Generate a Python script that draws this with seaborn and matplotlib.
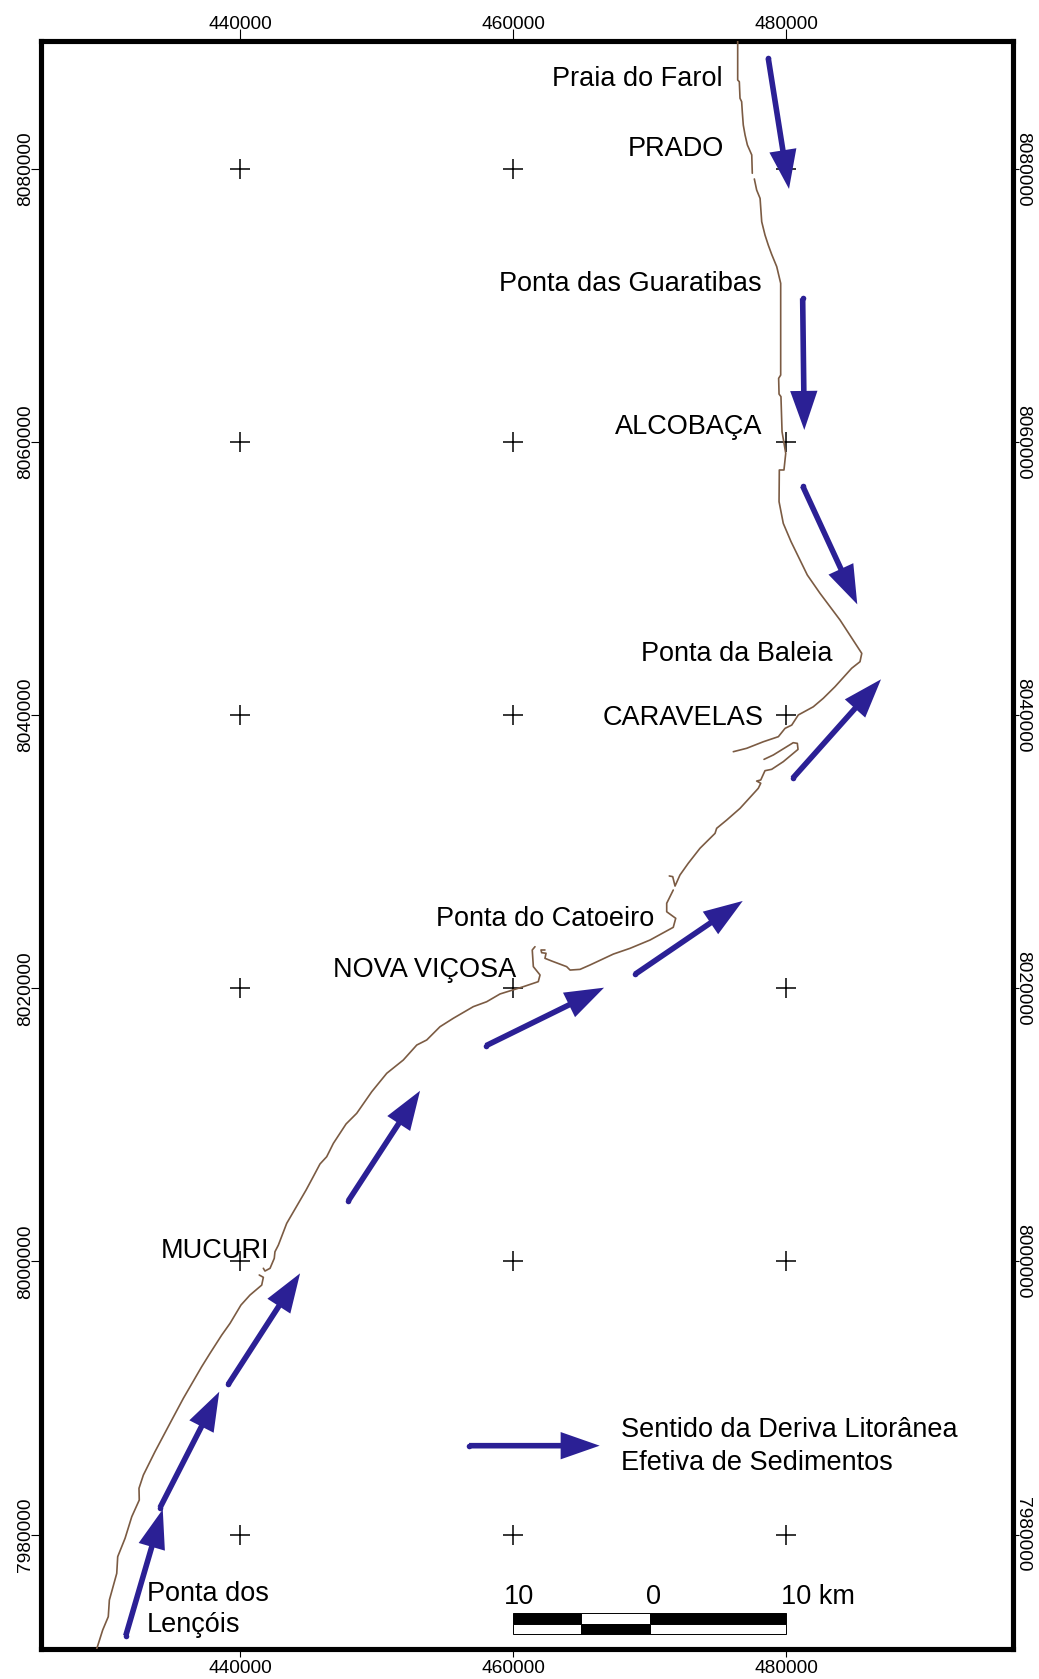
import numpy as np
import matplotlib
matplotlib.use("Agg")
import matplotlib.pyplot as plt
import seaborn as sns

# --------------------------------------------------
# Data (UTM metres)
# --------------------------------------------------
x_ticks = [440000, 460000, 480000]
y_ticks = [7980000, 8000000, 8020000, 8040000, 8060000, 8080000]

# coastline pieces, north to south
coast_a_x = [476460, 476460, 476580, 476630, 476750, 476800, 476870, 477000, 477170, 477490, 477530]
coast_a_y = [8089370, 8086520, 8086390, 8085180, 8084930, 8084150, 8083220, 8082490, 8081760, 8081030, 8079690]

coast_b_x = [477680, 477850, 478100, 478220, 478460, 478700, 478950, 479320, 479610, 479610, 479460,
             479490, 479630, 479710, 479980, 479850, 479510, 479490, 479800, 480370, 481560, 482490,
             483960, 485550, 485420, 484810, 483590, 482730, 482000, 480900, 480420, 479930, 479440,
             478340, 477120, 476140]
coast_b_y = [8079270, 8078460, 8077850, 8076140, 8075170, 8074430, 8073750, 8072850, 8071630, 8064910, 8064670,
             8063520, 8063330, 8060760, 8059180, 8057960, 8057960, 8055640, 8054050, 8052710, 8050270, 8048930,
             8046970, 8044530, 8043920, 8043440, 8042090, 8041240, 8040620, 8040020, 8039280, 8039040, 8038430,
             8038060, 8037580, 8037330]

coast_c_x = [478390, 479070, 480530, 480830, 480880, 479800, 478950, 478460, 478150, 477850, 478150,
             477970, 476630, 475660, 474920, 474800, 473700, 472840, 472230, 471870, 471700, 471450]
coast_c_y = [8036770, 8037090, 8037990, 8037940, 8037500, 8036600, 8036040, 8035940, 8035260, 8035180, 8035020,
             8034650, 8033180, 8032330, 8031720, 8031350, 8030260, 8029160, 8028300, 8027490, 8028180, 8028230]

coast_d_x = [471740, 471260, 471260, 471920, 471740, 470040, 468570, 467350, 465640, 464910, 464180,
             463930, 462840, 462340, 462420, 462100, 462050, 462340]
coast_d_y = [8027200, 8026230, 8025610, 8025130, 8024470, 8023540, 8022930, 8022510, 8021710, 8021390, 8021340,
             8021590, 8022000, 8022200, 8022570, 8022610, 8022810, 8022810]

coast_e_x = [461610, 461410, 461490, 461980, 461850, 460750, 459050, 458070, 457090, 455630, 454650,
             453680, 452950, 451960, 450750, 449650, 448550, 447770, 446840, 446350, 445860, 445350,
             444840, 443420, 442810, 442560, 442510, 442200, 441830, 441710]
coast_e_y = [8023050, 8022810, 8021590, 8020980, 8020490, 8020120, 8019590, 8019020, 8018660, 8017810, 8017190,
             8016220, 8015850, 8014750, 8013780, 8012430, 8010850, 8010070, 8008650, 8007670, 8007140, 8006180,
             8005230, 8002790, 8001200, 8000710, 8000230, 7999500, 7999300, 7999500]

coast_f_x = [441410, 441710, 441590, 440730, 440070, 439270, 438660, 437800, 437190, 435850, 435000,
             433770, 432920, 432600, 432620, 432070, 431580, 431040, 430970, 430430, 430350, 429940, 429500]
coast_f_y = [7999010, 7998840, 7998270, 7997540, 7996810, 7995470, 7994610, 7993270, 7992290, 7989980, 7988390,
             7986070, 7984360, 7983390, 7982530, 7981310, 7979730, 7978380, 7977160, 7975210, 7973990, 7973010, 7971620]

coast_segments = [(coast_a_x, coast_a_y), (coast_b_x, coast_b_y), (coast_c_x, coast_c_y),
                  (coast_d_x, coast_d_y), (coast_e_x, coast_e_y), (coast_f_x, coast_f_y)]

# drift arrows, the last one is the key
arrow_tail_x = [478700, 481220, 481220, 480490, 468940, 458020, 447930, 439140, 434140, 431630, 456780]
arrow_tail_y = [8088110, 8070530, 8056790, 8035380, 8021030, 8015800, 8004430, 7991000, 7981970, 7972590, 7986510]
arrow_tip_x = [480220, 481340, 485220, 486960, 476830, 466670, 453190, 444400, 438480, 434340, 466350]
arrow_tip_y = [8078540, 8060890, 8048120, 8042630, 8026400, 8020050, 8012500, 7999130, 7990460, 7981850, 7986510]

# place names (left end of the baseline)
place_names = ["Praia do Farol", "PRADO", "Ponta das Guaratibas", "ALCOBAÇA", "Ponta da Baleia",
               "CARAVELAS", "Ponta do Catoeiro", "NOVA VIÇOSA", "MUCURI", "Ponta dos", "Lençóis",
               "Sentido da Deriva Litorânea", "Efetiva de Sedimentos"]
place_x = [462860, 468400, 458970, 467470, 469380, 466590, 454360, 446810, 434210, 433190, 433190, 467910, 467910]
place_y = [8086100, 8080970, 8071090, 8060590, 8043990, 8039280, 8024590, 8020850, 8000230, 7975170, 7972890,
           7987140, 7984730]

# scale bar
scale_edges = [460000, 465000, 470000, 480000]
scale_labels = ["10", "0", "10 km"]

# --------------------------------------------------
# Figure
# --------------------------------------------------
sns.set_theme(style="white")
plt.rcParams["font.family"] = ["Liberation Sans", "DejaVu Sans"]
plt.rcParams["text.color"] = "black"

W, H = 1039, 1679
fig = plt.figure(figsize=(W / 100, H / 100), dpi=100)
ax = fig.add_axes([41 / W, (H - 1649) / H, (1012.6 - 41) / W, (1649 - 41) / H])

ax.set_xlim(425421, 496600)
ax.set_ylim(7971622, 8089374)

# grid crosses
grid_x, grid_y = np.meshgrid(x_ticks, y_ticks)
sns.scatterplot(x=grid_x.ravel(), y=grid_y.ravel(), marker="+", color="black", s=225,
                linewidth=1.1, legend=False, ax=ax, zorder=2)

# coastline
for seg_x, seg_y in coast_segments:
    sns.lineplot(x=seg_x, y=seg_y, sort=False, estimator=None, color="#7b5b43",
                 linewidth=1.2, legend=False, ax=ax, zorder=3)

# arrows
arrow_color = "#2b2095"
for x0, y0, x1, y1 in zip(arrow_tail_x, arrow_tail_y, arrow_tip_x, arrow_tip_y):
    ax.arrow(x0, y0, x1 - x0, y1 - y0, width=410, head_width=2000, head_length=2860,
             length_includes_head=True, color=arrow_color, linewidth=0, zorder=4)
sns.scatterplot(x=arrow_tail_x, y=arrow_tail_y, color=arrow_color, s=16, linewidth=0,
                legend=False, ax=ax, zorder=4)

# labels
for name, x, y in zip(place_names, place_x, place_y):
    ax.text(x, y, name, fontsize=19.5, color="black", ha="left", va="baseline", zorder=5)

# scale bar: two rows with opposite colours
bar_left = scale_edges[:-1]
bar_width = np.diff(scale_edges)
ax.bar(bar_left, 780, width=bar_width, bottom=7973480, align="edge",
       color=["black", "white", "black"], edgecolor="black", linewidth=0.7, zorder=5)
ax.bar(bar_left, 780, width=bar_width, bottom=7972700, align="edge",
       color=["white", "black", "white"], edgecolor="black", linewidth=0.7, zorder=5)
ax.text(460410, 7974910, scale_labels[0], fontsize=19.5, color="black", ha="center", va="baseline")
ax.text(470260, 7974910, scale_labels[1], fontsize=19.5, color="black", ha="center", va="baseline")
ax.text(479600, 7974910, scale_labels[2], fontsize=19.5, color="black", ha="left", va="baseline")

# frame and ticks
for spine in ax.spines.values():
    spine.set_linewidth(3.7)
    spine.set_color("black")

ax.set_xticks(x_ticks)
ax.set_yticks(y_ticks)
ax.set_xticklabels([str(v) for v in x_ticks])
ax.set_yticklabels([str(v) for v in y_ticks])
ax.tick_params(axis="x", direction="out", width=0.8, length=6, pad=1.8, labelsize=13.8,
               color="black", labelcolor="black", bottom=True, top=False)
ax.tick_params(axis="y", direction="out", width=0.8, length=7, pad=-2, labelsize=13.8,
               color="black", labelcolor="black", left=True, right=False)
for label in ax.get_yticklabels():
    label.set_rotation(90)
    label.set_verticalalignment("center")

# top and right sides get their own tick lengths
top_axis = ax.secondary_xaxis("top")
top_axis.set_xticks(x_ticks)
top_axis.set_xticklabels([str(v) for v in x_ticks])
top_axis.tick_params(axis="x", direction="out", width=0.8, length=8.6, pad=-2.6, labelsize=13.8,
                     color="black", labelcolor="black")
top_axis.spines["top"].set_visible(False)

right_axis = ax.secondary_yaxis("right")
right_axis.set_yticks(y_ticks)
right_axis.set_yticklabels([str(v) for v in y_ticks], rotation=270, va="center")
right_axis.tick_params(axis="y", direction="out", width=0.8, length=4, pad=-2.8, labelsize=13.8,
                       color="black", labelcolor="black")
right_axis.spines["right"].set_visible(False)

fig.savefig("out.png", dpi=100)
